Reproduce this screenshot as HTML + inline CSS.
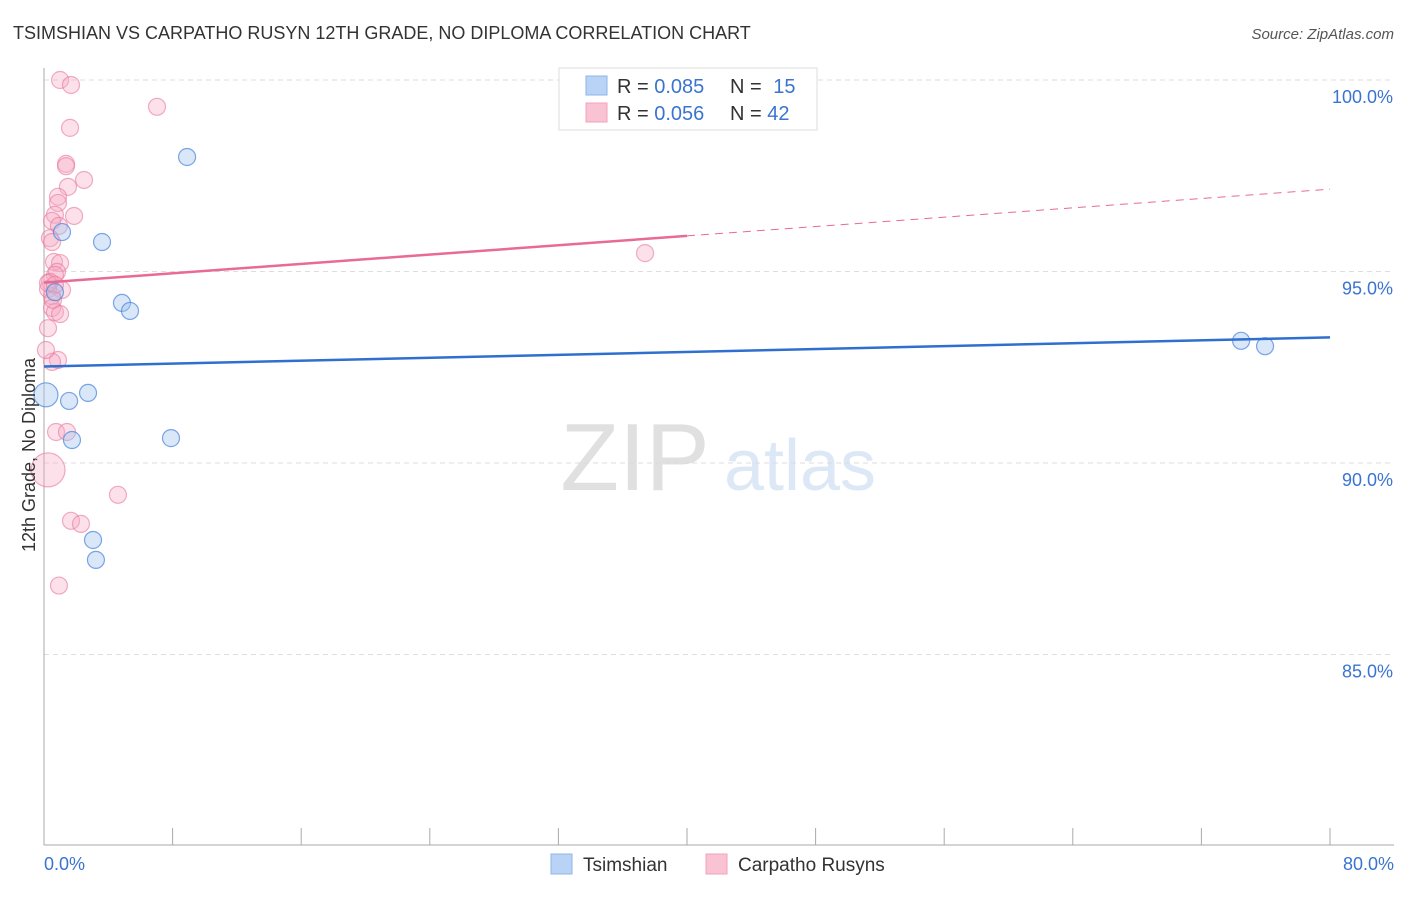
<!DOCTYPE html>
<html><head><meta charset="utf-8"><style>
body{margin:0;background:#fff;font-family:"Liberation Sans",sans-serif}
svg text{font-family:"Liberation Sans",sans-serif}
</style></head><body>
<svg id="chart" width="1406" height="892" xmlns="http://www.w3.org/2000/svg">
<text x="13" y="39" font-size="18" fill="#333">TSIMSHIAN VS CARPATHO RUSYN 12TH GRADE, NO DIPLOMA CORRELATION CHART</text>
<text x="1394" y="39" font-size="15" fill="#555" text-anchor="end" font-style="italic">Source: ZipAtlas.com</text>
<g opacity="0.25">
<text x="635" y="490" font-size="96" fill="#888" text-anchor="middle" font-family="Liberation Serif">ZIP</text>
<text x="800" y="490" font-size="72" fill="#7aa6e0" text-anchor="middle">atlas</text>
</g>
<g id="grid"></g>
<g id="axes"></g>
<g id="marks"></g>
<text transform="translate(35,455) rotate(-90)" font-size="18" fill="#333" text-anchor="middle">12th Grade, No Diploma</text>
<g>
<rect x="559" y="68" width="258" height="62" fill="#fff" stroke="#ddd"/>
<rect x="586" y="76" width="21" height="19" fill="#b9d3f7" stroke="#8fb4ea"/>
<rect x="586" y="103" width="21" height="19" fill="#f9c3d3" stroke="#f0a3bb"/>
<text x="617" y="93" font-size="20" fill="#333">R = <tspan fill="#3a74d0">0.085</tspan></text>
<text x="730" y="93" font-size="20" fill="#333">N = <tspan fill="#3a74d0" dx="6">15</tspan></text>
<text x="617" y="120" font-size="20" fill="#333">R = <tspan fill="#3a74d0">0.056</tspan></text>
<text x="730" y="120" font-size="20" fill="#333">N = <tspan fill="#3a74d0">42</tspan></text>
</g>
<g>
<rect x="551" y="854" width="21" height="20" fill="#b9d3f7" stroke="#8fb4ea"/>
<text x="583" y="871" font-size="19" fill="#333">Tsimshian</text>
<rect x="706" y="854" width="21" height="20" fill="#f9c3d3" stroke="#f0a3bb"/>
<text x="738" y="871" font-size="19" fill="#333">Carpatho Rusyns</text>
</g>
</svg>
<script>
const yTicks=[85,90,95,100];
const yTickLabels=["85.0%","90.0%","95.0%","100.0%"];
const xTickLabels=["0.0%","80.0%"];
const blueX=[8.9,1.12,3.61,0.68,4.85,5.35,0.12,1.56,2.74,1.74,7.90,3.05,3.23,74.47,75.96];
const blueY=[97.99,96.03,95.77,94.46,94.18,93.97,91.78,91.62,91.83,90.60,90.65,87.99,87.47,93.19,93.05];
const pinkX=[1.0,1.68,7.03,1.62,1.37,2.49,1.49,0.87,0.87,1.87,0.68,0.5,0.93,0.37,0.5,0.62,1.0,0.81,0.68,0.37,1.12,0.25,0.5,0.5,0.68,1.0,0.25,0.87,0.5,0.75,1.43,0.25,4.6,1.68,2.3,0.93,37.39,0.25,0.68,0.56,0.12,1.37];
const pinkY=[100.0,99.87,99.30,98.75,97.81,97.39,97.21,96.95,96.79,96.45,96.48,96.32,96.19,95.87,95.77,95.25,95.22,94.99,94.91,94.73,94.52,94.54,94.36,94.05,93.94,93.89,93.52,92.69,92.64,90.81,90.81,89.82,89.17,88.49,88.41,86.80,95.48,94.70,94.65,94.26,92.95,97.75];
const blueTrend=[92.52,93.28];
const pinkTrend=[94.71,97.15];
const sx=v=>44+v/80*1286;
const sy=v=>80+(100-v)*38.3;
const NS="http://www.w3.org/2000/svg";
function mk(parent,tag,attrs){const e=document.createElementNS(NS,tag);for(const k in attrs)e.setAttribute(k,attrs[k]);document.getElementById(parent).appendChild(e);return e;}
yTicks.forEach((t,i)=>{
 const g=mk('grid','line',{x1:44,x2:1394,y1:sy(t),y2:sy(t),stroke:'#ddd','stroke-dasharray':'5,4'});
 
 
 const l=mk('axes','text',{x:1393,y:sy(t)+23,'font-size':18,fill:'#3a74d0','text-anchor':'end'});
 l.textContent=yTickLabels[i];
 
 
});
let a=mk('axes','line',{x1:44,x2:44,y1:68,y2:845,stroke:'#aaa'});


a=mk('axes','line',{x1:44,x2:1394,y1:845,y2:845,stroke:'#aaa'});


for(let k=1;k<=10;k++){const t=mk('axes','line',{x1:sx(k*8),x2:sx(k*8),y1:828,y2:845,stroke:'#aaa'});
 
 }
[[0,44,'start'],[80,1394,'end']].forEach((d,i)=>{const t=mk('axes','text',{x:d[1],y:870,'font-size':18,fill:'#3a74d0','text-anchor':d[2]});t.textContent=xTickLabels[i];
 
 });
pinkX.forEach((x,i)=>{const r=(i===31)?17:8.5;const c=mk('marks','circle',{cx:sx(x),cy:sy(pinkY[i]),r:r,fill:'rgba(246,170,195,0.35)',stroke:'rgba(232,120,155,0.6)','stroke-width':1.2});
 
 });
blueX.forEach((x,i)=>{const r=(i===6)?12:8.5;const c=mk('marks','circle',{cx:sx(x),cy:sy(blueY[i]),r:r,fill:'rgba(160,196,240,0.4)',stroke:'rgba(70,130,220,0.7)','stroke-width':1.2});
 
 });
let t=mk('marks','line',{x1:sx(0),y1:sy(blueTrend[0]),x2:sx(80),y2:sy(blueTrend[1]),stroke:'#2f6fd0','stroke-width':2.5});


const pm=(pinkTrend[0]+pinkTrend[1])/2;
t=mk('marks','line',{x1:sx(0),y1:sy(pinkTrend[0]),x2:sx(40),y2:sy(pm),stroke:'#e86a95','stroke-width':2.5});


t=mk('marks','line',{x1:sx(40),y1:sy(pm),x2:sx(80),y2:sy(pinkTrend[1]),stroke:'#e86a95','stroke-width':1,'stroke-dasharray':'8,6'});


</script>
</body></html>
